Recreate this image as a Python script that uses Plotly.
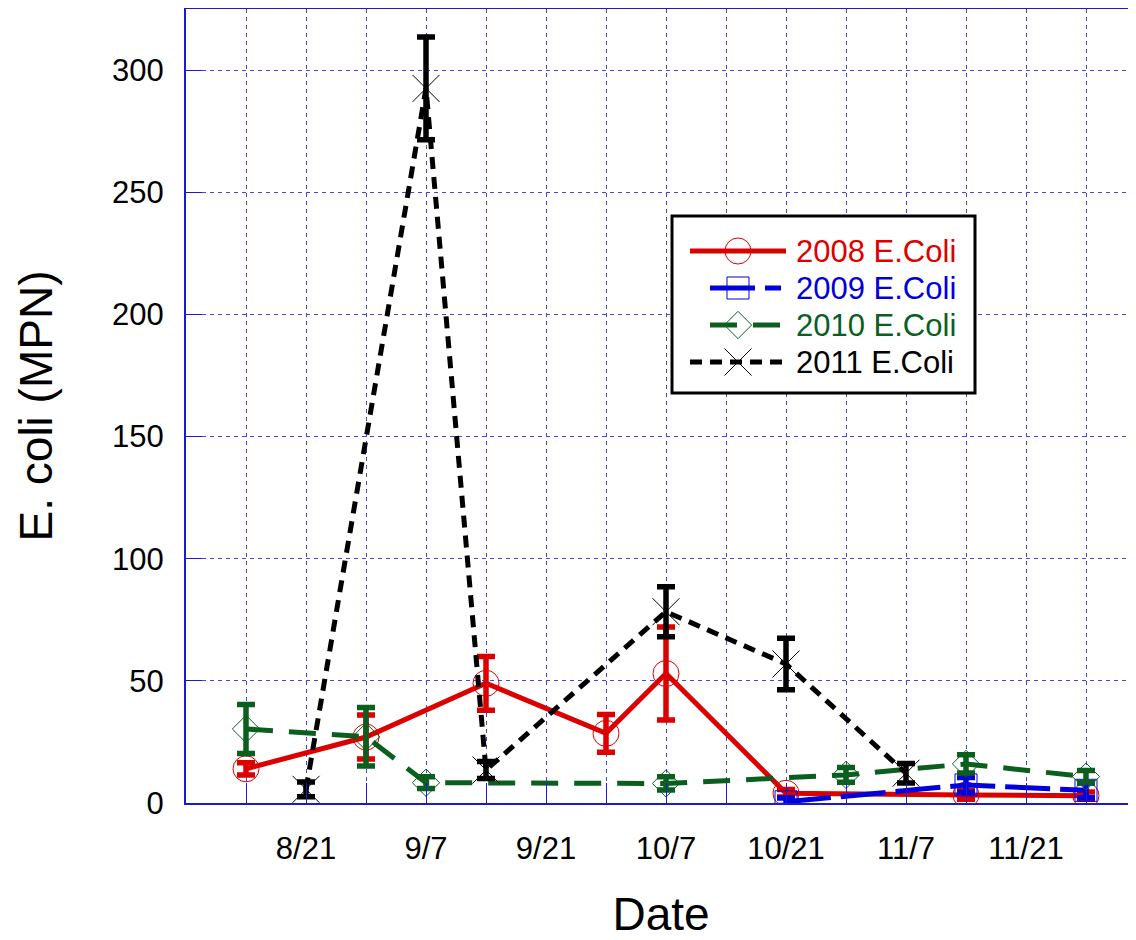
import plotly.graph_objects as go

# ---------------- data ----------------
# x positions are in weeks along the season axis; tick labels at every 2 weeks
tick_pos = [2, 4, 6, 8, 10, 12, 14]
tick_labels = ["8/21", "9/7", "9/21", "10/7", "10/21", "11/7", "11/21"]

x_2008 = [1, 3, 5, 7, 8, 10, 13, 15]
y_2008 = [14, 27, 49, 28.5, 53, 4, 3.3, 3]
e_2008 = [2.5, 9, 11, 7.7, 19, 1.5, 1.8, 1.5]

x_2009 = [10, 13, 15]
y_2009 = [0.5, 7.4, 5.2]
e_2009 = [1.5, 3, 3]

x_2010 = [1, 3, 4, 8, 11, 13, 15]
y_2010 = [30.3, 27.1, 8.3, 8.0, 11.5, 16, 10.8]
e_2010 = [10, 12, 2.4, 2.7, 3, 3.7, 2.5]

x_2011 = [2, 4, 5, 8, 10, 12]
y_2011 = [5.6, 292.5, 13.5, 78.3, 56.9, 12.2]
e_2011 = [3, 21, 3.5, 10.2, 10.5, 4]

names = ["2008 E.Coli", "2009 E.Coli", "2010 E.Coli", "2011 E.Coli"]

# ---------------- style ----------------
RED = "#dd0000"
BLUE = "#0000dd"
GREEN = "#0a5f1e"
BLACK = "#000000"
GRID = "#4646e0"
AXIS = "#1a1ad0"
FONT = "Liberation Sans, Arial, sans-serif"

X_MAX = 950 / 60
Y_MAX = 325

series = [
    dict(x=x_2008, y=y_2008, e=e_2008, name=names[0], color=RED, dash="solid",
         symbol="circle-open", size=26),
    dict(x=x_2009, y=y_2009, e=e_2009, name=names[1], color=BLUE, dash="45px,10px",
         symbol="square-open", size=22),
    dict(x=x_2010, y=y_2010, e=e_2010, name=names[2], color=GREEN, dash="27px,16px",
         symbol="diamond-open", size=21),
    dict(x=x_2011, y=y_2011, e=e_2011, name=names[3], color=BLACK, dash="12px,8px",
         symbol="x-thin-open", size=27),
]

fig = go.Figure()

for s in series:
    fig.add_trace(go.Scatter(
        x=s["x"], y=s["y"], name=s["name"], mode="lines+markers",
        line=dict(color=s["color"], width=5, dash=s["dash"]),
        marker=dict(symbol=s["symbol"], size=s["size"], color=s["color"],
                    line=dict(width=1, color=s["color"])),
        error_y=dict(type="data", array=s["e"], visible=True,
                     thickness=5.5, width=9, color=s["color"]),
        showlegend=False,
    ))

# ---------------- custom legend (pixel coordinates on an overlay axis) ----------------
PX0, PX1, PY0, PY1 = 186, 1136, 803, 9   # plot-area pixel box (left, right, bottom, top)
leg_rows = [251, 288, 325, 362]
leg_line = [(690, 786), (710, 781), (710, 781), (690, 786)]
leg_marker_x = 738
leg_text_x = 794
leg_box = (672, 975, 216, 393)

for s, ry, (lx0, lx1) in zip(series, leg_rows, leg_line):
    fig.add_trace(go.Scatter(
        x=[lx0, lx1], y=[ry, ry], mode="lines", xaxis="x2", yaxis="y2",
        line=dict(color=s["color"], width=5, dash=s["dash"]),
        showlegend=False, hoverinfo="skip"))
    fig.add_trace(go.Scatter(
        x=[leg_marker_x], y=[ry], mode="markers", xaxis="x2", yaxis="y2",
        marker=dict(symbol=s["symbol"], size=s["size"], color=s["color"],
                    line=dict(width=1, color=s["color"])),
        showlegend=False, hoverinfo="skip"))
    fig.add_annotation(x=leg_text_x, y=ry, xref="x2", yref="y2", text=s["name"],
                       showarrow=False, xanchor="left", yanchor="middle",
                       font=dict(family=FONT, size=31, color=s["color"]))


def px_to_x(px):
    return (px - PX0) / (PX1 - PX0) * X_MAX


def py_to_y(py):
    return (PY0 - py) / (PY0 - PY1) * Y_MAX


fig.add_shape(type="rect", xref="x", yref="y",
              x0=px_to_x(leg_box[0]), x1=px_to_x(leg_box[1]),
              y0=py_to_y(leg_box[3]), y1=py_to_y(leg_box[2]),
              line=dict(color="black", width=3), fillcolor="white", layer="between")

all_ticks = list(range(0, 16))
all_text = [tick_labels[tick_pos.index(t)] if t in tick_pos else "" for t in all_ticks]

# the page body has an 8px margin, so the figure is offset by 8px right/down
fig.update_layout(
    width=1128, height=932,
    margin=dict(l=178, r=0, t=1, b=137),
    paper_bgcolor="white", plot_bgcolor="white",
    font=dict(family=FONT, color="black"),
    showlegend=False,
    xaxis=dict(
        range=[0, X_MAX], tickmode="array", tickvals=all_ticks, ticktext=all_text,
        showgrid=True, gridcolor=GRID, gridwidth=1, griddash="4px,4px",
        zeroline=False, showline=True, linecolor=AXIS, linewidth=2, mirror=True,
        ticks="inside", ticklen=20, tickcolor=AXIS, tickwidth=1,
        tickfont=dict(family=FONT, size=31, color="black"),
        ticklabelstandoff=17,
        title=dict(text="Date", font=dict(family=FONT, size=46, color="black"), standoff=35),
    ),
    yaxis=dict(
        range=[0, Y_MAX], tickmode="array", tickvals=[0, 50, 100, 150, 200, 250, 300],
        showgrid=True, gridcolor=GRID, gridwidth=1, griddash="4px,4px",
        zeroline=False, showline=True, linecolor=AXIS, linewidth=2,
        ticks="inside", ticklen=16, tickcolor=AXIS, tickwidth=1,
        tickfont=dict(family=FONT, size=31, color="black"),
        ticklabelstandoff=14,
        title=dict(text="E. coli (MPN)", font=dict(family=FONT, size=46, color="black"), standoff=45),
    ),
    xaxis2=dict(overlaying="x", range=[PX0, PX1], visible=False, fixedrange=True),
    yaxis2=dict(overlaying="y", range=[PY0, PY1], visible=False, fixedrange=True),
)

fig.write_html("out.html")
